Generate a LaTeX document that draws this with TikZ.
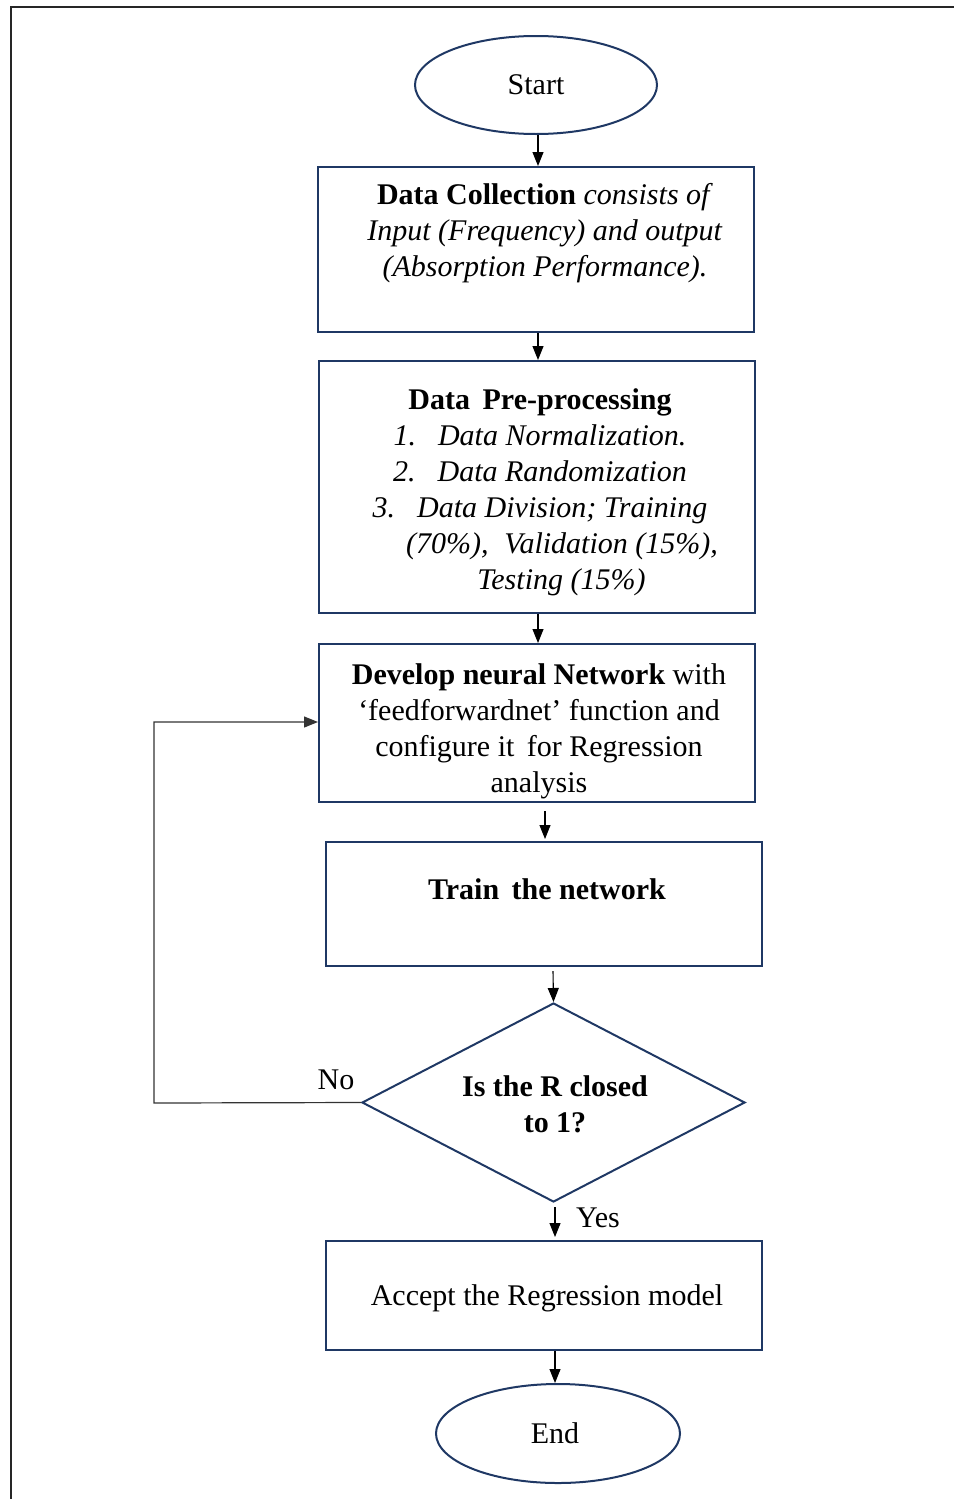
\documentclass[tikz,border=0pt]{standalone}
\usepackage{fontspec}
\setmainfont{Liberation Serif}
\usetikzlibrary{shapes.geometric,arrows.meta}
\definecolor{navy}{HTML}{1F3864}
\begin{document}
\begin{tikzpicture}[x=1pt,y=-1pt,
  box/.style={draw=navy,line width=2pt,inner sep=0pt},
  term/.style={ellipse,draw=navy,line width=2pt,inner sep=0pt,font=\fontsize{30}{36}\selectfont},
  txt/.style={font=\fontsize{30}{36}\selectfont,align=center,inner sep=0pt},
  arr/.style={-{Triangle[length=14pt,width=11pt]},line width=1.1pt,black},
  loopline/.style={-{Triangle[length=14pt,width=11pt]},line width=1.2pt,black!80}
]
\useasboundingbox (0,0) rectangle (954,1499);
\draw[line width=1.2pt,black!85] (11,1499) -- (11,7) -- (954,7);

% shapes
\node[term,minimum width=242pt,minimum height=98pt] (start) at (536,85) {Start};
\node[box,minimum width=436pt,minimum height=165pt] (dc) at (536,249.5) {};
\node[box,minimum width=436pt,minimum height=252pt] (pre) at (537,487) {};
\node[box,minimum width=436pt,minimum height=158pt] (dev) at (537,723) {};
\node[box,minimum width=436pt,minimum height=124pt] (train) at (544,904) {};
\node[diamond,draw=navy,line width=2pt,inner sep=0pt,minimum width=383pt,minimum height=199pt] (dec) at (553.5,1102.5) {};
\node[box,minimum width=436pt,minimum height=109pt] (acc) at (544,1295.5) {};
\node[term,minimum width=244pt,minimum height=99pt] (end) at (558,1433.5) {};

% texts
\node[txt] (dctxt) at (545,233.5) {{\bfseries Data Collection} \textit{consists of}\\ \textit{Input (Frequency) and output}\\ \textit{(Absorption Performance).}};
\node[txt] (pretxt) at (540,492.5) {{\bfseries Data\, Pre-processing}\\
  \textit{1.\hspace{22pt}Data Normalization.}\\
  \textit{2.\hspace{22pt}Data Randomization}\\
  \textit{3.\hspace{22pt}Data Division; Training}\\
  \hspace*{44pt}\textit{(70\%),\; Validation (15\%),}\\
  \hspace*{43pt}\textit{Testing (15\%)}};
\node[txt] (devtxt) at (539,731) {{\bfseries Develop neural Network} with\\ ‘feedforwardnet’ function and\\ configure it\, for Regression\\ analysis};
\node[txt,font=\fontsize{30}{36}\selectfont\bfseries] (traintxt) at (547,889) {Train\, the network};
\node[txt,font=\fontsize{30}{36}\selectfont\bfseries] (dectxt) at (555,1104) {Is the R closed\\ to 1?};
\node[txt] (acctxt) at (547,1298) {Accept the Regression model};
\node[txt] (endtxt) at (555,1433) {End};
\node[txt] (no) at (336,1080) {No};
\node[txt] (yes) at (598,1218) {Yes};

% connectors
\draw[arr] ([xshift=2pt]start.south) -- ([xshift=2pt]dc.north);
\draw[arr] ([xshift=2pt]dc.south) -- ([xshift=1pt]pre.north);
\draw[arr] ([xshift=1pt]pre.south) -- ([xshift=1pt]dev.north);
\draw[arr] ([xshift=8pt,yshift=-8pt]dev.south) -- ([xshift=1pt,yshift=2pt]train.north);
\draw[arr] ([xshift=9pt,yshift=-4pt]train.south) -- (dec.north);
\draw[arr] ([xshift=1.5pt,yshift=-4pt]dec.south) -- ([xshift=11pt,yshift=3pt]acc.north);
\draw[arr] ([xshift=11pt]acc.south) -- ([xshift=-3pt]end.north);
\coordinate (l1) at (154,1103);
\coordinate (l2) at (154,722);
\draw[loopline] (dec.west) -- (l1) -- (l2) -- (dev.west |- l2);
\end{tikzpicture}
\end{document}
